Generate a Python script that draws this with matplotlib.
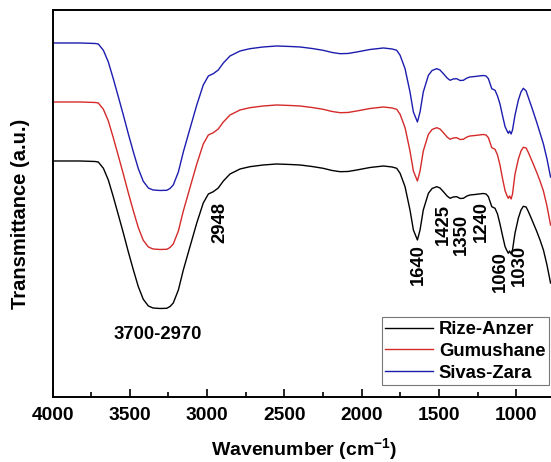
import numpy as np
from matplotlib import pyplot as plt

# FTIR spectra, transmittance in arbitrary units (curves are stacked)
wavenumber = [4000, 3822, 3725, 3704, 3671, 3639, 3607, 3574, 3542, 3510, 3477, 3445, 3413, 3380,
              3350, 3305, 3261, 3240, 3219, 3186, 3154, 3111, 3067, 3025, 2992, 2960, 2928, 2895,
              2852, 2787, 2723, 2638, 2550, 2464, 2399, 2322, 2250, 2192, 2140, 2089, 2032, 1946,
              1860, 1804, 1774, 1752, 1720, 1688, 1666, 1640, 1623, 1602, 1569, 1545, 1515, 1494,
              1472, 1448, 1429, 1408, 1386, 1364, 1343, 1319, 1300, 1267, 1241, 1214, 1196, 1181,
              1159, 1138, 1122, 1106, 1089, 1073, 1060, 1052, 1044, 1034, 1025, 1009, 987, 970,
              955, 937, 922, 899, 868, 847, 825, 802, 779]

rize_anzer = [236, 236, 235.5, 235, 228.7, 217, 200.3, 182, 164, 145.3, 127, 110.3, 97.7, 91,
              89, 88.5, 88.7, 90.5, 94, 107, 127, 150.3, 174, 194, 203, 205.3, 209, 216,
              223, 228, 230.3, 232, 233, 232.5, 232, 230.5, 228.7, 226.5, 225.3, 225.5, 227, 229.5,
              231, 230, 228.7, 223.7, 210.3, 187, 167, 157, 167, 187, 203.7, 208.5, 210.3, 209,
              205.3, 201, 198.7, 200, 200.3, 198.5, 198.7, 201, 202, 202.5, 203, 203.5, 203, 200.3,
              190.3, 188.7, 183, 173, 161, 150.3, 146, 143.7, 146, 143, 147, 163.7, 179, 187,
              190.7, 190, 185.3, 177, 165.5, 157, 147, 132, 114]

gumushane = [295, 295, 294.5, 294, 287.7, 276, 259.3, 241, 223, 204.3, 186, 169.3, 156.7, 150,
             148, 147.5, 147.7, 149.5, 153, 166, 186, 209.3, 233, 253, 262, 264.3, 268, 275,
             282, 287, 289.3, 291, 292, 291.5, 291, 289.5, 287.7, 285.5, 284.3, 284.5, 286, 288.5,
             290, 289, 287.7, 282.7, 269.3, 246, 226, 216, 226, 246, 262.7, 267.5, 269.3, 268,
             264.3, 260, 257.7, 259, 259.3, 257.5, 257.7, 260, 261, 261.5, 262, 262.5, 262, 259.3,
             249.3, 247.7, 242, 232, 218, 206.3, 201, 198.7, 201, 198, 203, 222.7, 238, 246,
             249.7, 249, 244.3, 236, 224.5, 216, 206, 191, 172]

sivas_zara = [354, 354, 353.5, 353, 346.7, 335, 318.3, 300, 282, 263.3, 245, 228.3, 215.7, 209,
              207, 206.5, 206.7, 208.5, 212, 225, 245, 268.3, 292, 312, 321, 323.3, 327, 334,
              341, 346, 348.3, 350, 351, 350.5, 350, 348.5, 346.7, 344.5, 343.3, 343.5, 345, 347.5,
              349, 348, 346.7, 341.7, 328.3, 305, 285, 275, 285, 305, 321.7, 326.5, 328.3, 327,
              323.3, 319, 316.7, 318, 318.3, 316.5, 316.7, 319, 320, 320.5, 321, 321.5, 321, 318.3,
              308.3, 306.7, 301, 293, 281, 270.3, 266, 263.7, 266, 263, 267, 281.7, 297, 305,
              308.7, 306, 299.3, 289, 274.5, 264, 253, 238, 220]

series_names = ["Rize-Anzer", "Gumushane", "Sivas-Zara"]
series_colors = ["#000000", "#d42a2a", "#1c1cae"]

# band labels: text, x, y, rotation
band_labels = ["3700-2970", "2948", "1640", "1425", "1350", "1240", "1060", "1030"]
band_x = [3318, 2917, 1633, 1471, 1355, 1225, 1106, 983]
band_y = [62, 175, 132, 172, 163, 175, 125, 132]
band_rot = [0, 90, 90, 90, 90, 90, 90, 90]

plt.rcParams['font.family'] = ['Liberation Sans', 'DejaVu Sans']
plt.rcParams['font.weight'] = 'bold'
plt.rcParams['font.size'] = 13
plt.rcParams['mathtext.fontset'] = 'custom'
plt.rcParams['mathtext.rm'] = 'Liberation Sans:bold'
plt.rcParams['mathtext.default'] = 'rm'

fig = plt.figure(figsize=(5.51, 4.62), dpi=100)
# the right end of the axis is cut off by the figure edge, as in the original
ax = fig.add_axes([0.0953, 0.1407, 0.912, 0.8377])

for values, name, color in zip([rize_anzer, gumushane, sivas_zara], series_names, series_colors):
    ax.plot(wavenumber, values, color=color, lw=1.0, label=name)

for text, x, y, rot in zip(band_labels, band_x, band_y, band_rot):
    ax.text(x, y, text, rotation=rot, ha="center", va="center", fontsize=13.3, fontweight="bold")

ax.set_xlim(4000, 750)
ax.set_ylim(0, 387)
ax.set_xticks(np.arange(4000, 999, -500))
ax.set_xticks(np.arange(3750, 749, -500), minor=True)
ax.set_yticks([])
ax.tick_params(axis="x", which="major", direction="in", length=6, width=1.2, pad=7, labelsize=13.8)
ax.tick_params(axis="x", which="minor", direction="in", length=3.5, width=1.2)
for side in ax.spines:
    ax.spines[side].set_linewidth(1.4)

ax.set_xlabel(r"Wavenumber (cm$^{-1}$)", fontsize=14, fontweight="bold", va="center")
ax.set_ylabel("Transmittance (a.u.)", fontsize=14.5, fontweight="bold")
ax.xaxis.set_label_coords(0.5, -0.134)
ax.yaxis.set_label_coords(-0.045, 0.473)

leg = ax.legend(loc="lower left", bbox_to_anchor=(0.655, 0.03), fontsize=13.3, frameon=True,
                fancybox=False, edgecolor="#555555", handlelength=2.6, handletextpad=0.3,
                borderpad=0.2, labelspacing=0.26, borderaxespad=0)
leg.get_frame().set_linewidth(0.8)

plt.savefig("out.png", dpi=100)
